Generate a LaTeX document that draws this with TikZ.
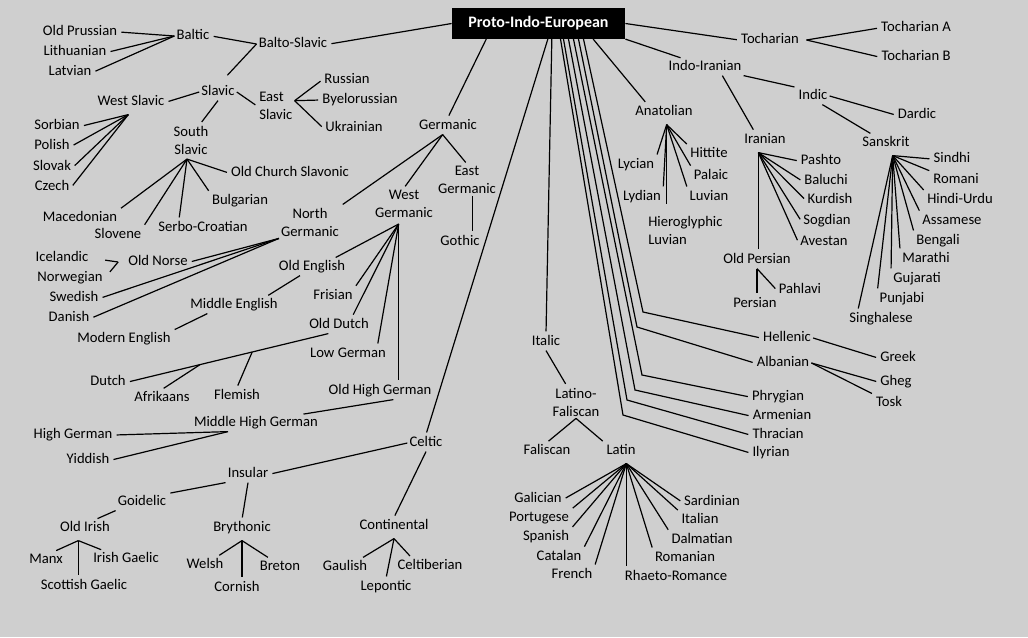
\documentclass[tikz,border=0pt]{standalone}
\usepackage{fontspec}
\setmainfont{Carlito}
\usepackage{tikz}

\begin{document}
\begin{tikzpicture}[
  x=0.75pt, y=-0.75pt,
  font=\fontsize{11}{13.5}\selectfont,
  lng/.style={inner sep=1.5pt, text height=7.5pt, text depth=2pt},
  lng2/.style={inner sep=1.5pt, align=center},
  piebox/.style={fill=black, text=white, inner sep=0pt,
    font=\fontsize{12}{14}\selectfont\bfseries,
    minimum width=130pt, minimum height=23pt},
  link/.style={line width=0.9pt, shorten >=1.5pt},
]

\fill[black!19] (0,0) rectangle (1028,637);
\useasboundingbox (0,0) rectangle (1028,637);

\node[piebox] (pie) at (538.5,23.5) {Proto-Indo-European};

% Balto-Slavic
\node[lng] (baltoslavic) at (293,44) {Balto-Slavic};
\node[lng] (baltic) at (193,36) {Baltic};
\node[lng] (oldprussian) at (80,32) {Old Prussian};
\node[lng] (lithuanian) at (75,52) {Lithuanian};
\node[lng] (latvian) at (70,72) {Latvian};
\node[lng] (slavic) at (218,92) {Slavic};
\node[lng] (westslavic) at (131,102) {West Slavic};
\node[lng2, align=left, anchor=west] (eastslavic) at (257,106) {East\\Slavic};
\node[lng] (russian) at (347,80) {Russian};
\node[lng] (byelorussian) at (360,100) {Byelorussian};
\node[lng] (ukrainian) at (354,128) {Ukrainian};
\node[lng] (sorbian) at (57,126) {Sorbian};
\node[lng] (polish) at (52,146) {Polish};
\node[lng] (slovak) at (52,167) {Slovak};
\node[lng] (czech) at (52,187) {Czech};
\node[lng2] (southslavic) at (191,140) {South\\Slavic};
\node[lng] (ochslavonic) at (290,173) {Old Church Slavonic};
\node[lng] (bulgarian) at (240,201) {Bulgarian};
\node[lng] (macedonian) at (80,218) {Macedonian};
\node[lng] (slovene) at (118,235) {Slovene};
\node[lng] (serbocroatian) at (203,228) {Serbo-Croatian};

\draw[link] (pie.west) -- (baltoslavic.east);
\draw[link] (baltoslavic.west) -- (baltic.east);
\draw[link] (baltoslavic.west) -- ([xshift=6pt,yshift=5pt]slavic.north);
\draw[link] (baltic.west) -- (oldprussian.east);
\draw[link] (baltic.west) -- (lithuanian.east);
\draw[link] (baltic.west) -- (latvian.east);
\draw[link] (slavic.west) -- (westslavic.east);
\draw[link] (slavic.east) -- (eastslavic.west);
\draw[link] (slavic.south) -- (southslavic.60);
\coordinate (eshub) at ([yshift=4pt]eastslavic.east);
\draw[link] (eshub) -- (russian.west);
\draw[link] (eshub) -- (byelorussian.west);
\draw[link] (eshub) -- (ukrainian.west);
\coordinate (wshub) at ([xshift=-2pt,yshift=-3pt]westslavic.south);
\draw[link] (wshub) -- (sorbian.east);
\draw[link] (wshub) -- (polish.east);
\draw[link] (wshub) -- (slovak.east);
\draw[link] (wshub) -- (czech.east);
\coordinate (sshub) at ([xshift=-3pt,yshift=-2pt]southslavic.south);
\draw[link] (sshub) -- (ochslavonic.west);
\draw[link] (sshub) -- (bulgarian.north west);
\draw[link] (sshub) -- (macedonian.north east);
\draw[link] (sshub) -- (slovene.north east);
\draw[link] (sshub) -- ([xshift=-18pt]serbocroatian.north);

% Germanic
\node[lng] (germanic) at (448,126) {Germanic};
\node[lng2] (eastgermanic) at (467,180) {East\\Germanic};
\node[lng] (gothic) at (460,242) {Gothic};
\node[lng2] (westgermanic) at (404,204) {West\\Germanic};
\node[lng2] (northgermanic) at (310,222) {North\\Germanic};
\node[lng] (oldnorse) at (158,262) {Old Norse};
\node[lng] (icelandic) at (62,258) {Icelandic};
\node[lng] (norwegian) at (70,278) {Norwegian};
\node[lng] (swedish) at (74,298) {Swedish};
\node[lng] (danish) at (69,318) {Danish};
\node[lng] (oldenglish) at (312,267) {Old English};
\node[lng] (middleenglish) at (234,305) {Middle English};
\node[lng] (modernenglish) at (124,339) {Modern English};
\node[lng] (frisian) at (333,296) {Frisian};
\node[lng] (olddutch) at (339,325) {Old Dutch};
\node[lng] (dutch) at (108,382) {Dutch};
\node[lng] (afrikaans) at (162,398) {Afrikaans};
\node[lng] (flemish) at (237,396) {Flemish};
\node[lng] (lowgerman) at (348,354) {Low German};
\node[lng] (oldhighgerman) at (380,391) {Old High German};
\node[lng] (middlehighgerman) at (256,423) {Middle High German};
\node[lng] (highgerman) at (73,435) {High German};
\node[lng] (yiddish) at (88,460) {Yiddish};

\draw[link] ([xshift=26pt]pie.south west) -- (germanic.north);
\coordinate (ghub) at ([xshift=-4pt]germanic.south);
\draw[link] (ghub) -- (eastgermanic.north);
\draw[link] (ghub) -- (westgermanic.north);
\draw[link] (ghub) -- (northgermanic.north east);
\coordinate (eghub) at ([xshift=4pt]eastgermanic.south);
\draw[link] (eghub) -- (eghub |- gothic.north);
\coordinate (nghub) at (northgermanic.south west);
\draw[link] (nghub) -- (oldnorse.east);
\draw[link] (nghub) -- (swedish.east);
\draw[link] (nghub) -- (danish.east);
\coordinate (onhub) at ([xshift=-6pt]oldnorse.west);
\draw[link, shorten >=11pt] (onhub) -- (icelandic.east);
\draw[link, shorten >=6pt] (onhub) -- (norwegian.east);
\coordinate (wghub) at ([xshift=-4pt,yshift=-3pt]westgermanic.south);
\draw[link] (wghub) -- ([xshift=-10pt]oldenglish.north east);
\draw[link] (wghub) -- (frisian.north east);
\draw[link] (wghub) -- ([xshift=10pt]olddutch.north);
\draw[link] (wghub) -- ([xshift=-8pt]lowgerman.north east);
\draw[link] (wghub) -- (wghub |- oldhighgerman.north);
\draw[link] ([xshift=-9pt]oldenglish.south) -- ([xshift=-10pt]middleenglish.north east);
\draw[link] ([xshift=-20pt]middleenglish.south) -- (modernenglish.north east);
\draw[link] ([xshift=-8pt]olddutch.south) -- coordinate[pos=0.38] (flemishfork)
  coordinate[pos=0.64] (afrikaansfork) (dutch.east);
\draw[link] (flemishfork) -- (flemish.north);
\draw[link] (afrikaansfork) -- (afrikaans.north);
\draw[link] ([xshift=10pt]oldhighgerman.south) -- ([xshift=-14pt]middlehighgerman.north east);
\coordinate (mhghub) at ([xshift=-21pt]middlehighgerman.south);
\draw[link] (mhghub) -- (highgerman.east);
\draw[link] (mhghub) -- (yiddish.east);

% Celtic
\node[lng] (celtic) at (426,443) {Celtic};
\node[lng] (insular) at (248,474) {Insular};
\node[lng] (goidelic) at (142,502) {Goidelic};
\node[lng] (oldirish) at (85,528) {Old Irish};
\node[lng] (manx) at (46,560) {Manx};
\node[lng] (irishgaelic) at (126,559) {Irish Gaelic};
\node[lng] (scottishgaelic) at (84,586) {Scottish Gaelic};
\node[lng] (brythonic) at (242,528) {Brythonic};
\node[lng] (welsh) at (205,565) {Welsh};
\node[lng] (breton) at (280,567) {Breton};
\node[lng] (cornish) at (237,588) {Cornish};
\node[lng] (continental) at (394,526) {Continental};
\node[lng] (gaulish) at (345,567) {Gaulish};
\node[lng] (celtiberian) at (430,566) {Celtiberian};
\node[lng] (lepontic) at (386,587) {Lepontic};

\draw[link] ([xshift=7pt]pie.south) -- (celtic.north);
\draw[link] (celtic.west) -- (insular.east);
\draw[link] (celtic.south) -- (continental.north);
\coordinate (contihub) at ([yshift=-3pt]continental.south);
\draw[link] (contihub) -- ([xshift=-6pt]gaulish.north east);
\draw[link] (contihub) -- (lepontic.north);
\draw[link] (contihub) -- ([xshift=12pt]celtiberian.north west);
\draw[link] (insular.south west) -- (goidelic.north east);
\draw[link] (insular.south) -- (brythonic.north);
\draw[link] (goidelic.south west) -- ([xshift=8pt]oldirish.north);
\coordinate (oihub) at ([xshift=-5pt,yshift=-3pt]oldirish.south);
\draw[link] (oihub) -- ([xshift=-8pt]manx.north east);
\draw[link] (oihub) -- ([xshift=9pt]irishgaelic.north west);
\draw[link] (oihub) -- (oihub |- scottishgaelic.north);
\coordinate (bryhub) at ([yshift=-3pt]brythonic.south);
\draw[link] (bryhub) -- ([xshift=-6pt]welsh.north east);
\draw[link] (bryhub) -- ([xshift=9pt]breton.north west);
\draw[link] (bryhub) -- (bryhub |- cornish.north);

% Italic
\node[lng] (italic) at (546,342) {Italic};
\node[lng2] (latinofaliscan) at (576,402) {Latino-\\Faliscan};
\node[lng] (faliscan) at (547,451) {Faliscan};
\node[lng] (latin) at (621,451) {Latin};
\node[lng] (galician) at (538,499) {Galician};
\node[lng] (portugese) at (539,518) {Portugese};
\node[lng] (spanish) at (546,537) {Spanish};
\node[lng] (catalan) at (559,557) {Catalan};
\node[lng] (french) at (572,575) {French};
\node[lng] (rhaetoromance) at (676,577) {Rhaeto-Romance};
\node[lng] (romanian) at (685,558) {Romanian};
\node[lng] (dalmatian) at (702,540) {Dalmatian};
\node[lng] (italian) at (700,520) {Italian};
\node[lng] (sardinian) at (712,502) {Sardinian};

\draw[link] ([xshift=10pt]pie.south) -- (italic.north);
\draw[link] (italic.south) -- ([xshift=-7pt]latinofaliscan.north);
\coordinate (lfhub) at (latinofaliscan.south);
\draw[link] (lfhub) -- (faliscan.north);
\draw[link] (lfhub) -- (latin.north west);
\coordinate (latinhub) at ([xshift=4pt,yshift=-3pt]latin.south);
\draw[link] (latinhub) -- (galician.east);
\draw[link] (latinhub) -- (portugese.north east);
\draw[link] (latinhub) -- (spanish.north east);
\draw[link] (latinhub) -- (catalan.north east);
\draw[link] (latinhub) -- (french.north east);
\draw[link] (latinhub) -- (latinhub |- rhaetoromance.north);
\draw[link] (latinhub) -- (romanian.north west);
\draw[link] (latinhub) -- (dalmatian.north west);
\draw[link] (latinhub) -- (italian.north west);
\draw[link] (latinhub) -- (sardinian.west);

% Anatolian
\node[lng] (anatolian) at (664,112) {Anatolian};
\node[lng] (hittite) at (709,154) {Hittite};
\node[lng] (lycian) at (636,165) {Lycian};
\node[lng] (palaic) at (711,176) {Palaic};
\node[lng] (lydian) at (642,197) {Lydian};
\node[lng] (luvian) at (709,197) {Luvian};
\node[lng2, align=left, anchor=west] (hierluvian) at (646,230) {Hieroglyphic\\Luvian};

\draw[link] ([xshift=41pt]pie.south) -- ([xshift=10pt]anatolian.north west);
\coordinate (anahub) at ([xshift=2pt,yshift=-3pt]anatolian.south);
\draw[link] (anahub) -- (lycian.north east);
\draw[link] (anahub) -- (lydian.north east);
\draw[link, shorten >=7pt] (anahub) -- (anahub |- hierluvian.north);
\draw[link] (anahub) -- (luvian.north west);
\draw[link] (anahub) -- (palaic.north west);
\draw[link] (anahub) -- (hittite.north west);

% Hellenic, Albanian and the rest
\node[lng] (hellenic) at (787,338) {Hellenic};
\node[lng] (greek) at (898,358) {Greek};
\node[lng] (albanian) at (783,363) {Albanian};
\node[lng] (gheg) at (896,382) {Gheg};
\node[lng] (tosk) at (889,403) {Tosk};
\node[lng] (phrygian) at (778,397) {Phrygian};
\node[lng] (armenian) at (782,416) {Armenian};
\node[lng] (thracian) at (778,435) {Thracian};
\node[lng] (ilyrian) at (771,453) {Ilyrian};

\coordinate (hellbend) at (643,312);
\coordinate (albbend) at (637,327);
\coordinate (phrybend) at (642,375);
\coordinate (armbend) at (635,390);
\coordinate (thrbend) at (627,400);
\coordinate (ilybend) at (623,415);
\draw[link] ([xshift=33.75pt]pie.south) -- (hellbend) -- (hellenic.west);
\draw[link] ([xshift=30pt]pie.south) -- (albbend) -- (albanian.west);
\draw[link] ([xshift=26.25pt]pie.south) -- (phrybend) -- (phrygian.west);
\draw[link] ([xshift=22.5pt]pie.south) -- (armbend) -- (armenian.west);
\draw[link] ([xshift=18.75pt]pie.south) -- (thrbend) -- (thracian.west);
\draw[link] ([xshift=16.5pt]pie.south) -- (ilybend) -- (ilyrian.west);
\draw[link] (hellenic.east) -- (greek.west);
\coordinate (albhub) at (albanian.east);
\draw[link] (albhub) -- (gheg.west);
\draw[link] (albhub) -- (tosk.north west);

% Tocharian
\node[lng] (tocharian) at (770,40) {Tocharian};
\node[lng] (tocharianA) at (916,28) {Tocharian A};
\node[lng] (tocharianB) at (916,57) {Tocharian B};

\draw[link] (pie.east) -- (tocharian.west);
\coordinate (tochub) at ([xshift=4pt]tocharian.east);
\draw[link] (tochub) -- (tocharianA.west);
\draw[link] (tochub) -- (tocharianB.west);

% Indo-Iranian
\node[lng] (indoiranian) at (705,67) {Indo-Iranian};
\node[lng] (indic) at (813,96) {Indic};
\node[lng] (dardic) at (917,115) {Dardic};
\node[lng] (iranian) at (765,140) {Iranian};
\node[lng] (pashto) at (821,161) {Pashto};
\node[lng] (baluchi) at (826,181) {Baluchi};
\node[lng] (kurdish) at (830,200) {Kurdish};
\node[lng] (sogdian) at (827,221) {Sogdian};
\node[lng] (avestan) at (824,242) {Avestan};
\node[lng] (oldpersian) at (757,260) {Old Persian};
\node[lng] (pahlavi) at (800,290) {Pahlavi};
\node[lng] (persian) at (755,304) {Persian};
\node[lng] (sanskrit) at (886,143) {Sanskrit};
\node[lng] (sindhi) at (952,159) {Sindhi};
\node[lng] (romani) at (956,180) {Romani};
\node[lng] (hindiurdu) at (960,200) {Hindi-Urdu};
\node[lng] (assamese) at (952,221) {Assamese};
\node[lng] (bengali) at (938,241) {Bengali};
\node[lng] (marathi) at (926,259) {Marathi};
\node[lng] (gujarati) at (917,279) {Gujarati};
\node[lng] (punjabi) at (902,299) {Punjabi};
\node[lng] (singhalese) at (881,319) {Singhalese};

\draw[link] (pie.south east) -- ([xshift=12pt]indoiranian.north west);
\draw[link] (indoiranian.south east) -- (indic.north west);
\draw[link] ([xshift=13pt]indoiranian.south) -- ([xshift=-8pt]iranian.north);
\draw[link] (indic.east) -- (dardic.west);
\draw[link] ([xshift=7pt]indic.south) -- ([xshift=9pt]sanskrit.north west);
\coordinate (iranhub) at ([xshift=-5pt,yshift=-3pt]iranian.south);
\draw[link] (iranhub) -- (pashto.west);
\draw[link] (iranhub) -- (baluchi.west);
\draw[link] (iranhub) -- (kurdish.west);
\draw[link] (iranhub) -- (sogdian.west);
\draw[link] (iranhub) -- (avestan.west);
\draw[link] (iranhub) -- (iranhub |- oldpersian.north);
\coordinate (ophub) at (oldpersian.south);
\draw[link] (ophub) -- (ophub |- persian.north);
\draw[link] (ophub) -- (pahlavi.west);
\coordinate (sanhub) at ([xshift=5pt,yshift=-3pt]sanskrit.south);
\draw[link] (sanhub) -- (sindhi.west);
\draw[link] (sanhub) -- (romani.north west);
\draw[link] (sanhub) -- (hindiurdu.north west);
\draw[link] (sanhub) -- (assamese.north west);
\draw[link] (sanhub) -- (bengali.north west);
\draw[link] (sanhub) -- (marathi.north west);
\draw[link] (sanhub) -- (gujarati.north west);
\draw[link] (sanhub) -- (punjabi.north west);
\draw[link] (sanhub) -- ([xshift=8pt]singhalese.north west);

\end{tikzpicture}
\end{document}
